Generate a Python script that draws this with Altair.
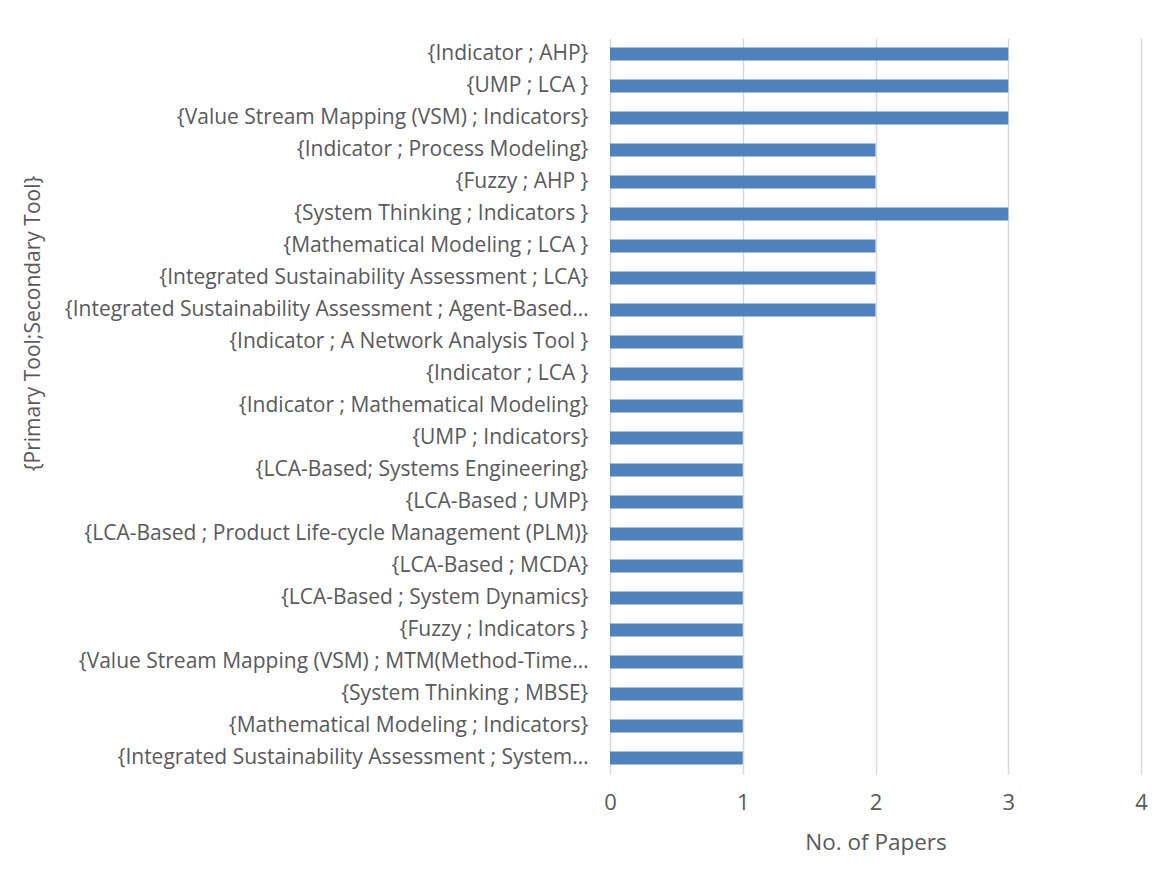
import altair as alt
import pandas as pd

categories = [
    "{Indicator ; AHP}",
    "{UMP ; LCA }",
    "{Value Stream Mapping (VSM) ; Indicators}",
    "{Indicator ; Process Modeling}",
    "{Fuzzy ; AHP }",
    "{System Thinking ; Indicators }",
    "{Mathematical Modeling ; LCA }",
    "{Integrated Sustainability Assessment ; LCA}",
    "{Integrated Sustainability Assessment ; Agent-Based…",
    "{Indicator ; A Network Analysis Tool }",
    "{Indicator ; LCA }",
    "{Indicator ; Mathematical Modeling}",
    "{UMP ; Indicators}",
    "{LCA-Based; Systems Engineering}",
    "{LCA-Based ; UMP}",
    "{LCA-Based ; Product Life-cycle Management (PLM)}",
    "{LCA-Based ; MCDA}",
    "{LCA-Based ; System Dynamics}",
    "{Fuzzy ; Indicators }",
    "{Value Stream Mapping (VSM) ; MTM(Method-Time…",
    "{System Thinking ; MBSE}",
    "{Mathematical Modeling ; Indicators}",
    "{Integrated Sustainability Assessment ; System…",
]
papers = [3, 3, 3, 2, 2, 3, 2, 2, 2, 1, 1, 1, 1, 1, 1, 1, 1, 1, 1, 1, 1, 1, 1]
x_ticks = [0, 1, 2, 3, 4]

df = pd.DataFrame({"tool": categories, "papers": papers})

FONT = "Open Sans"
TXT = "#595959"
FS = 21

chart = alt.Chart(df).mark_bar(color="#4F81BD").encode(
    x=alt.X(
        "papers:Q",
        scale=alt.Scale(domain=[0, 4], nice=False),
        axis=alt.Axis(
            values=x_ticks,
            title="No. of Papers",
            grid=True,
            gridColor="#D9D9D9",
            gridWidth=1.5,
            domain=False,
            ticks=False,
            labelFlush=False,
            labelPadding=18,
            labelFont=FONT,
            labelFontSize=22,
            labelColor=TXT,
            titleFont=FONT,
            titleFontSize=22.5,
            titleFontWeight="normal",
            titleColor=TXT,
            titlePadding=18,
        ),
    ),
    y=alt.Y(
        "tool:N",
        sort=categories,
        scale=alt.Scale(paddingInner=0.6, paddingOuter=0.3),
        axis=alt.Axis(
            title="{Primary Tool;Secondary Tool}",
            domain=False,
            ticks=False,
            labelPadding=22,
            labelLimit=600,
            labelFont=FONT,
            labelFontSize=FS,
            labelColor=TXT,
            titleFont=FONT,
            titleFontSize=FS,
            titleFontWeight="normal",
            titleColor=TXT,
            titleX=-567,
            titleY=285,
        ),
    ),
).properties(
    width=531,
    height=736,
    padding={"left": 602, "top": 30, "right": 24, "bottom": 100},
    autosize=alt.AutoSizeParams(type="none"),
).configure(background="white").configure_view(stroke=None)

chart.save("out.html", embed_options={"renderer": "svg", "actions": False})
